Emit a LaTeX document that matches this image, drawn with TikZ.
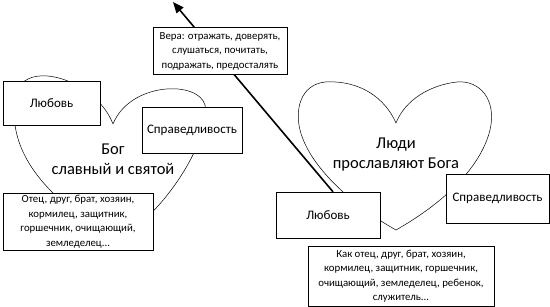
\documentclass[tikz,border=0pt]{standalone}
\usepackage{fontspec}
\setmainfont{Carlito}
\usetikzlibrary{arrows.meta}

\tikzset{
  textbox/.style={draw, thin, fill=white, align=center, inner sep=0pt,
    font=\fontsize{10.8}{14.5}\selectfont},
  wordbox/.style={textbox, font=\fontsize{13}{15}\selectfont},
  heart/.style={draw, line width=0.5pt},
  title/.style={align=center, font=\fontsize{16.5}{20}\selectfont}
}

\begin{document}
\begin{tikzpicture}[x=1pt, y=-1pt]
\useasboundingbox (0,0) rectangle (550,307);

% Hearts
\draw[heart] (113,124) .. controls (98,85) and (40,62) .. (20,85)
  .. controls (8,100) and (10,115) .. (15,125)
  .. controls (22,175) and (70,212) .. (115,240)
  .. controls (160,220) and (212,140) .. (205,105)
  .. controls (198,80) and (130,82) .. (113,124);
\draw[heart] (396,123) .. controls (385,98) and (360,80) .. (325,82)
  .. controls (300,85) and (295,110) .. (300,130)
  .. controls (310,170) and (360,210) .. (396,230)
  .. controls (440,205) and (480,170) .. (490,130)
  .. controls (497,100) and (480,80) .. (457,82)
  .. controls (430,85) and (405,100) .. (396,123);

% Heart titles
\node[title] (god) at (113,159) {Бог\\славный и святой};
\node[title] (people) at (396,155) {Люди\\прославляют Бога};

% Boxes
\node[wordbox, minimum width=104pt, minimum height=46pt] (lovR) at (328,215) {Любовь};
\coordinate (tip) at (173,2);
\draw[line width=1.6pt, -{Triangle[length=11pt, width=9pt]}] ([xshift=5pt]lovR.north) -- (tip);

\node[textbox, minimum width=134pt, minimum height=47pt] (faith) at (220,51)
  {Вера: отражать, доверять,\\слушаться, почитать,\\подражать, предосталять};
\node[wordbox, minimum width=97pt, minimum height=44pt] (lovL) at (51.5,103) {Любовь};
\node[wordbox, minimum width=100pt, minimum height=46pt] (justL) at (192,130) {Справедливость};
\node[textbox, minimum width=150pt, minimum height=57pt] (rolesL) at (78,221.5)
  {Отец, друг, брат, хозяин,\\кормилец, защитник,\\горшечник, очищающий,\\земледелец...};
\node[wordbox, minimum width=103pt, minimum height=49pt] (justR) at (497.5,198.5) {Справедливость};
\node[textbox, minimum width=186pt, minimum height=60pt] (rolesR) at (401,276)
  {Как отец, друг, брат, хозяин,\\кормилец, защитник, горшечник,\\очищающий, земледелец, ребенок,\\служитель...};

\end{tikzpicture}
\end{document}
